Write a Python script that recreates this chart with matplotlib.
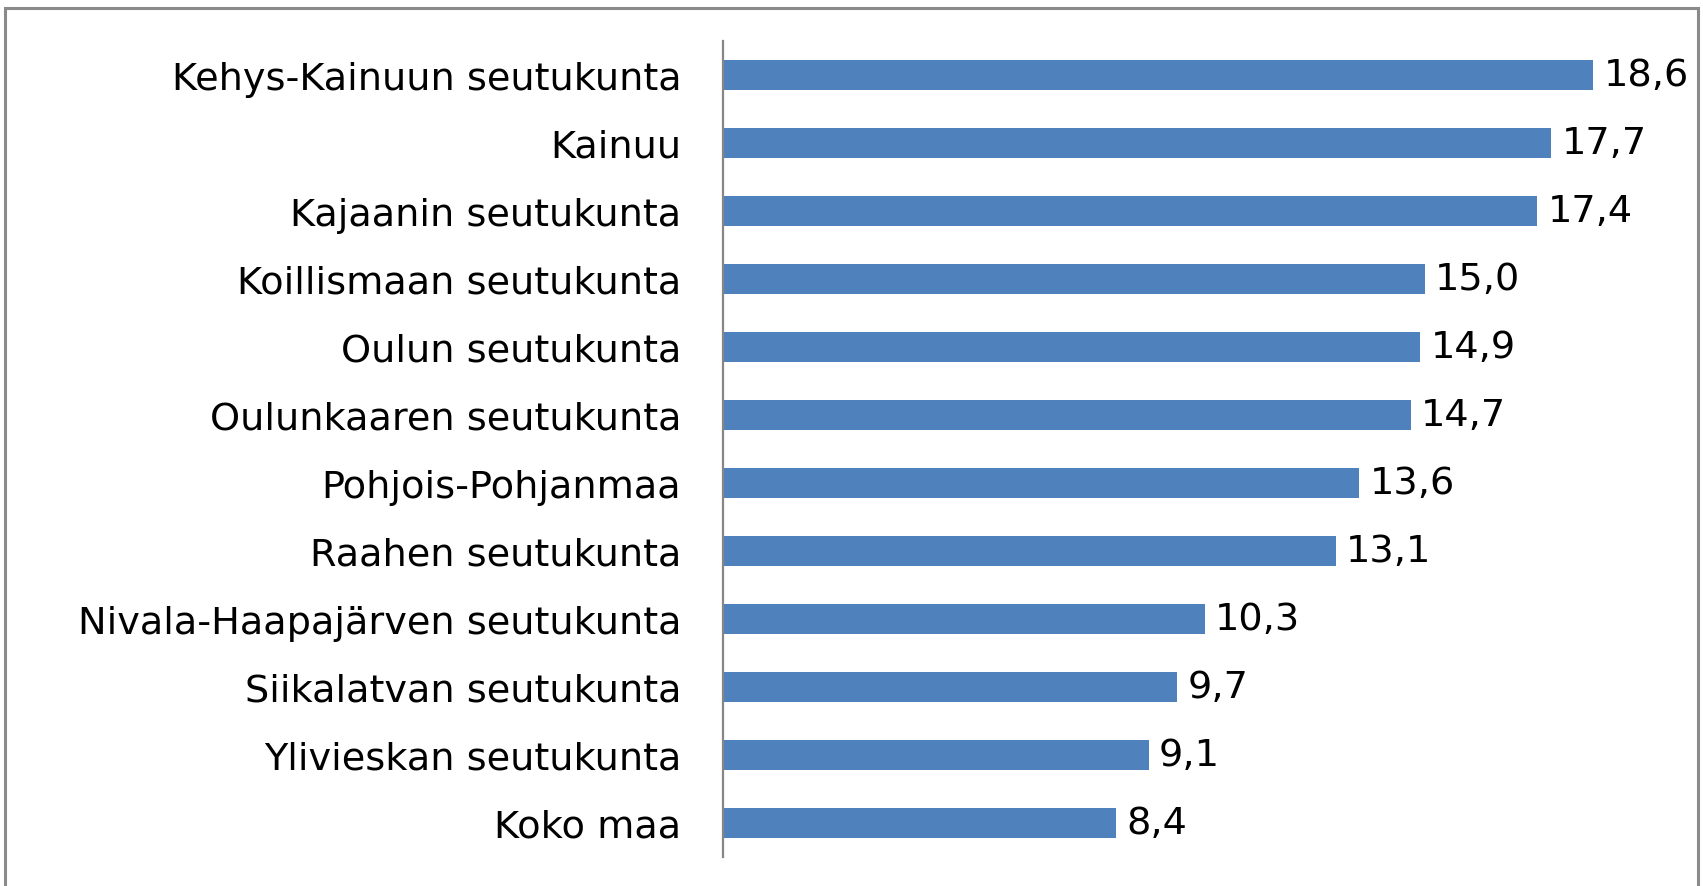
import matplotlib
matplotlib.use("Agg")
import matplotlib.pyplot as plt
from matplotlib.patches import Rectangle

# Alueet ja arvot (ylhäältä alas)
regions = [
    "Kehys-Kainuun seutukunta",
    "Kainuu",
    "Kajaanin seutukunta",
    "Koillismaan seutukunta",
    "Oulun seutukunta",
    "Oulunkaaren seutukunta",
    "Pohjois-Pohjanmaa",
    "Raahen seutukunta",
    "Nivala-Haapajärven seutukunta",
    "Siikalatvan seutukunta",
    "Ylivieskan seutukunta",
    "Koko maa",
]
values = [18.6, 17.7, 17.4, 15.0, 14.9, 14.7, 13.6, 13.1, 10.3, 9.7, 9.1, 8.4]
value_labels = [f"{v:.1f}".replace(".", ",") for v in values]

plt.rcParams['font.family'] = ['DejaVu Sans']

fig = plt.figure(figsize=(17.03, 8.87), dpi=100)
ax = fig.add_axes([0.4245, 0.0327, 0.5496, 0.92])

ypos = list(range(len(regions)))
bars = ax.barh(ypos, values, height=0.44, color="#4F81BD")

for b, lab in zip(bars, value_labels):
    ax.text(b.get_width() + 0.22, b.get_y() + b.get_height() / 2, lab,
            va="center", ha="left", fontsize=27.5, color="black")

ax.set_yticks(ypos)
ax.set_yticklabels(regions, fontsize=27.5)
ax.tick_params(axis="y", length=0, pad=30)
ax.set_ylim(len(regions) - 0.5, -0.5)
ax.set_xlim(0, 20)
ax.set_xticks([])

for s in ["top", "right", "bottom"]:
    ax.spines[s].set_visible(False)
ax.spines["left"].set_color("#868686")
ax.spines["left"].set_linewidth(1.6)

# Kehys kuvan ympärillä
fig.patches.append(Rectangle((0.003, -0.02), 0.994, 1.01, transform=fig.transFigure,
                             fill=False, edgecolor="#8A8A8A", linewidth=2.2))

fig.savefig("out.png", dpi=100)
